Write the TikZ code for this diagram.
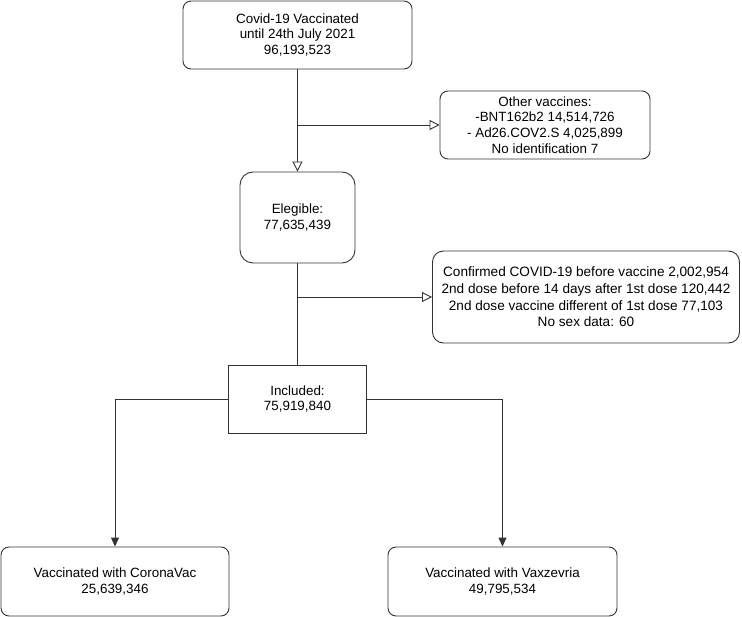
\documentclass[tikz,border=0pt]{standalone}
\usepackage{fontspec}
\setmainfont{Liberation Sans}
\usetikzlibrary{arrows.meta}
\begin{document}
\begin{tikzpicture}[x=1pt,y=-1pt,
  every node/.style={font=\fontsize{13.4}{15.7}\selectfont, align=center, inner sep=0pt},
  box/.style={draw=black!80, line width=0.9pt, rounded corners=#1},
  box/.default=8pt,
  conn/.style={draw=black!80, line width=0.9pt},
  openarr/.style={conn, -{Triangle[open, length=10pt, width=10pt, line width=0.9pt]}},
  fillarr/.style={conn, -{Triangle[length=9pt, width=8pt]}}]
\useasboundingbox (0,0) rectangle (742,617);
\node[box, minimum width=229pt, minimum height=68pt] (top) at (297.5,35) {Covid-19 Vaccinated\\until 24th July 2021\\96,193,523};
\node[box, minimum width=210pt, minimum height=68pt] (other) at (545,125) {Other vaccines:\\-BNT162b2 14,514,726\\- Ad26.COV2.S 4,025,899\\No identification 7};
\node[box=13pt, minimum width=115pt, minimum height=91pt] (eleg) at (297.5,217.5) {Elegible:\\77,635,439};
\node[box=11pt, minimum width=307pt, minimum height=92pt, font=\fontsize{13.6}{16.6}\selectfont] (conf) at (586,297) {Confirmed COVID-19 before vaccine 2,002,954\\2nd dose before 14 days after 1st dose 120,442\\2nd dose vaccine different of 1st dose 77,103\\No sex data: 60};
\node[draw=black!80, line width=0.9pt, minimum width=138pt, minimum height=68pt] (incl) at (297.5,399) {Included:\\75,919,840};
\node[box, minimum width=228pt, minimum height=69pt] (corona) at (115,581.5) {Vaccinated with CoronaVac\\25,639,346};
\node[box, minimum width=229pt, minimum height=69pt] (vax) at (502.5,581.5) {Vaccinated with Vaxzevria\\49,795,534};
\coordinate (b1) at (297.5,125);
\coordinate (b2) at (297.5,297);
\draw[openarr] (top.south) -- (eleg.north);
\draw[openarr] (b1) -- (b1 -| other.west);
\draw[conn] (eleg.south) -- (eleg.south |- incl.north);
\draw[openarr] (b2) -- (b2 -| conf.west);
\draw[fillarr] (incl.west) -| (corona.north);
\draw[fillarr] (incl.east) -| (vax.north);
\end{tikzpicture}
\end{document}
